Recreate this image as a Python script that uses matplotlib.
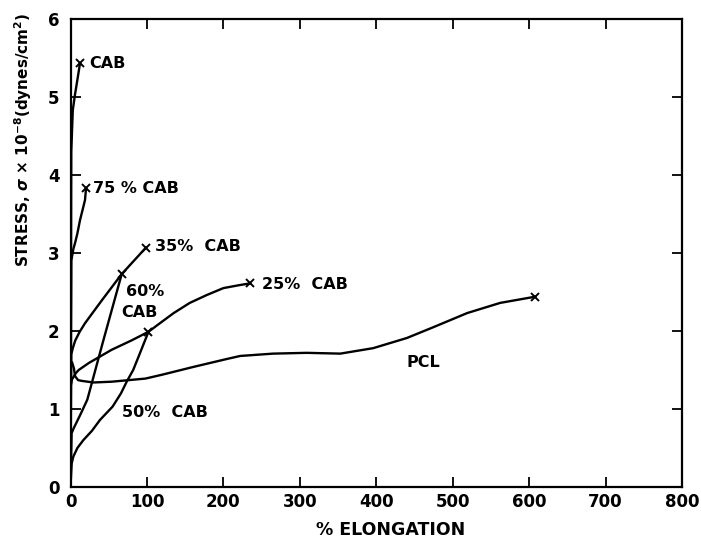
import matplotlib
matplotlib.use("Agg")
import matplotlib.pyplot as plt

plt.rcParams["font.family"] = ["DejaVu Sans"]
plt.rcParams["font.weight"] = "bold"

# stress-strain curves: % elongation vs stress (x 10^-8 dynes/cm^2)
cab_x = [0, 1, 3, 6, 9, 12.4]
cab_y = [0, 4.3, 4.83, 5.04, 5.22, 5.43]

cab75_x = [0, 1, 3.7, 6, 9, 12.4, 17, 19, 20.3]
cab75_y = [0, 2.9, 3.05, 3.13, 3.25, 3.42, 3.6, 3.68, 3.83]

cab60_x = [0, 1.5, 4, 8, 13, 22, 43, 67]
cab60_y = [0, 0.69, 0.75, 0.83, 0.93, 1.12, 1.88, 2.73]

cab50_x = [0, 1.5, 3.7, 9, 16.7, 28, 38.6, 55, 66, 73.5, 82, 89, 102]
cab50_y = [0, 0.3, 0.39, 0.5, 0.6, 0.72, 0.86, 1.03, 1.2, 1.35, 1.5, 1.67, 1.99]

cab35_x = [0, 1, 3, 6.3, 12, 19, 40, 67, 98.8]
cab35_y = [0, 1.7, 1.78, 1.88, 1.99, 2.10, 2.38, 2.73, 3.07]

cab25_x = [0, 0.3, 2, 4.5, 7, 10.7, 24, 54, 80, 102, 117, 135, 156, 178, 200,
           222, 235]
cab25_y = [0, 1.3, 1.38, 1.42, 1.46, 1.50, 1.59, 1.76, 1.88, 1.99, 2.10, 2.23,
           2.36, 2.46, 2.55, 2.59, 2.61]

pcl_x = [0, 0.3, 2, 4.5, 6, 10, 15, 30, 54, 98, 120, 161, 204, 222, 265, 309,
         353, 396, 440, 475, 519, 562, 608]
pcl_y = [0, 1.56, 1.6, 1.52, 1.42, 1.37, 1.36, 1.34, 1.35, 1.39, 1.44, 1.54,
         1.64, 1.68, 1.71, 1.72, 1.71, 1.78, 1.91, 2.05, 2.23, 2.36, 2.44]

curves = [
    (cab_x, cab_y), (cab75_x, cab75_y), (cab60_x, cab60_y),
    (cab50_x, cab50_y), (cab35_x, cab35_y), (cab25_x, cab25_y),
    (pcl_x, pcl_y),
]

# curve labels: text, x, y
labels = [
    ("CAB", 25, 5.43),
    ("75 % CAB", 29, 3.83),
    ("35%  CAB", 110, 3.08),
    ("25%  CAB", 250, 2.59),
    ("60%", 73, 2.5),
    ("CAB", 67, 2.24),
    ("PCL", 440, 1.6),
    ("50%  CAB", 68, 0.96),
]

fig = plt.figure(figsize=(7.01, 5.44), dpi=100)
ax = fig.add_axes([70.5 / 701, 1 - 487 / 544, (682 - 70.5) / 701, (487 - 19) / 544])

for xs, ys in curves:
    ax.plot(xs, ys, color="black", lw=1.7, solid_joinstyle="round",
            solid_capstyle="round")
    # break point marked with a small cross
    ax.plot(xs[-1], ys[-1], marker="x", color="black", ms=5.5, mew=1.4)

for text, x, y in labels:
    ax.text(x, y, text, fontsize=11.5, fontweight="bold", ha="left", va="center")

ax.set_xlim(0, 800)
ax.set_ylim(0, 6)
ax.set_xticks(range(0, 801, 100))
ax.set_yticks(range(0, 7))
ax.tick_params(direction="in", length=7, width=1.3, top=True, right=True,
               labelsize=12)
ax.tick_params(axis="y", pad=8)
ax.tick_params(axis="x", pad=4)
for lab in ax.get_xticklabels() + ax.get_yticklabels():
    lab.set_fontweight("bold")
for sp in ax.spines.values():
    sp.set_linewidth(1.6)

fig.text(391 / 701, 1 - 530 / 544, "% ELONGATION", fontsize=12.5,
         fontweight="bold", ha="center", va="center")
fig.text(23 / 701, 1 - 140 / 544,
         r"STRESS, $\sigma$ $\times$ 10$^{-8}$(dynes/cm$^{2}$)",
         fontsize=11, fontweight="bold", rotation=90, ha="center", va="center")

fig.savefig("out.png", dpi=100)
